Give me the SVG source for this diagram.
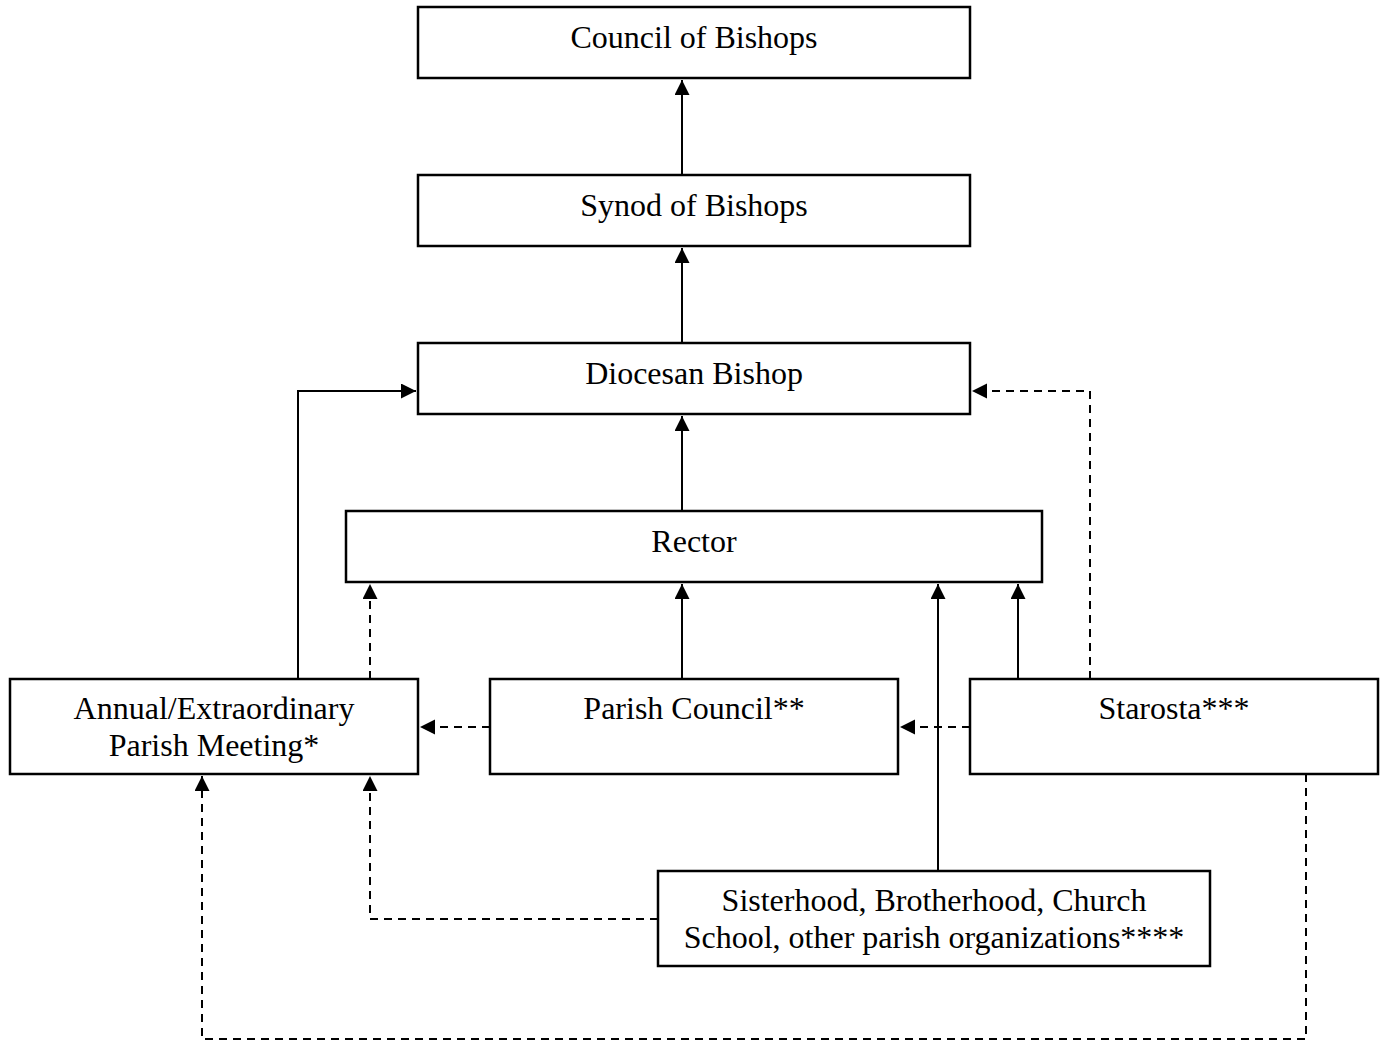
<svg xmlns="http://www.w3.org/2000/svg" width="1380" height="1041" viewBox="0 0 1380 1041">
<style>
.box{fill:#fff;stroke:#000;stroke-width:2.5}
.t{font-family:"Liberation Serif","Times New Roman",serif;font-size:32px;text-anchor:middle;fill:#000}
.c{fill:none;stroke:#000;stroke-width:2}
.d{stroke-dasharray:8,6}
</style>
<defs>
<marker id="ah" markerUnits="userSpaceOnUse" markerWidth="16" markerHeight="16" refX="15" refY="7.5" orient="auto">
<path d="M0,0 L15,7.5 L0,15 Z" fill="#000"/>
</marker>
</defs>
<rect width="1380" height="1041" fill="#fff"/>
<g id="connectors">
<line class="c" x1="682" y1="175" x2="682" y2="80" marker-end="url(#ah)"/>
<line class="c" x1="682" y1="343" x2="682" y2="248" marker-end="url(#ah)"/>
<line class="c" x1="682" y1="511" x2="682" y2="416" marker-end="url(#ah)"/>
<line class="c" x1="682" y1="679" x2="682" y2="584" marker-end="url(#ah)"/>
<polyline class="c" points="298,679 298,391 416,391" marker-end="url(#ah)"/>
<line class="c d" x1="370" y1="679" x2="370" y2="584" marker-end="url(#ah)"/>
<line class="c d" x1="490" y1="727" x2="420" y2="727" marker-end="url(#ah)"/>
<line class="c d" x1="970" y1="727" x2="900" y2="727" marker-end="url(#ah)"/>
<line class="c" x1="1018" y1="679" x2="1018" y2="584" marker-end="url(#ah)"/>
<polyline class="c d" points="1090,679 1090,391 972,391" marker-end="url(#ah)"/>
<line class="c" x1="938" y1="871" x2="938" y2="584" marker-end="url(#ah)"/>
<polyline class="c d" points="658,919 370,919 370,776" marker-end="url(#ah)"/>
<polyline class="c d" points="1306,774 1306,1039 202,1039 202,776" marker-end="url(#ah)"/>
</g>
<g id="council"><rect class="box" x="418" y="7" width="552" height="71"/><text class="t" x="694" y="48">Council of Bishops</text></g>
<g id="synod"><rect class="box" x="418" y="175" width="552" height="71"/><text class="t" x="694" y="216">Synod of Bishops</text></g>
<g id="diocesan"><rect class="box" x="418" y="343" width="552" height="71"/><text class="t" x="694" y="384">Diocesan Bishop</text></g>
<g id="rector"><rect class="box" x="346" y="511" width="696" height="71"/><text class="t" x="694" y="552">Rector</text></g>
<g id="annual"><rect class="box" x="10" y="679" width="408" height="95"/><text class="t" x="214" y="719">Annual/Extraordinary</text><text class="t" x="214" y="756">Parish Meeting*</text></g>
<g id="parishcouncil"><rect class="box" x="490" y="679" width="408" height="95"/><text class="t" x="694" y="719">Parish Council**</text></g>
<g id="starosta"><rect class="box" x="970" y="679" width="408" height="95"/><text class="t" x="1174" y="719">Starosta***</text></g>
<g id="orgs"><rect class="box" x="658" y="871" width="552" height="95"/><text class="t" x="934" y="911">Sisterhood, Brotherhood, Church</text><text class="t" x="934" y="948">School, other parish organizations****</text></g>
</svg>
